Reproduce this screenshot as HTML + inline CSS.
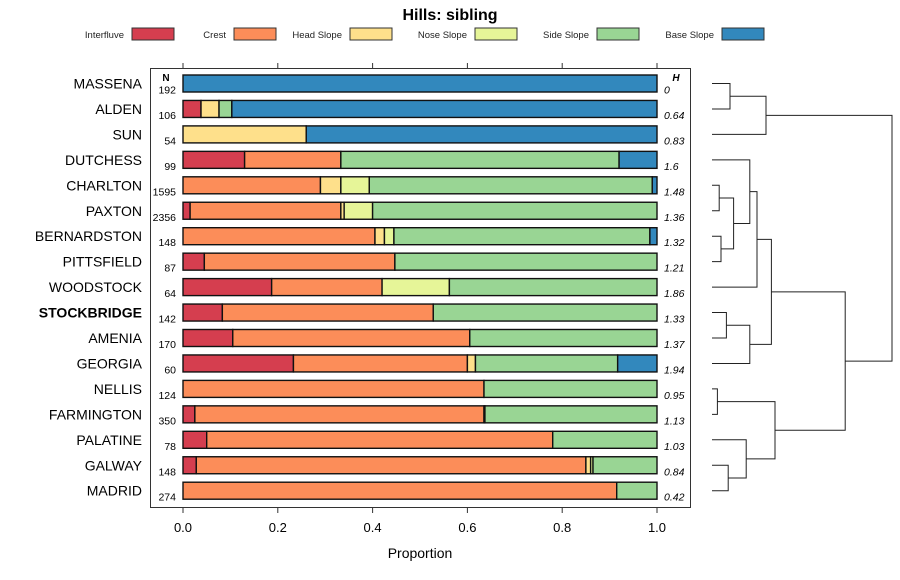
<!DOCTYPE html>
<html><head><meta charset="utf-8"><style>
body{margin:0;background:#fff;}
svg{display:block;font-family:"Liberation Sans",sans-serif;}
</style></head><body>
<svg id="c" width="900" height="580" xmlns="http://www.w3.org/2000/svg"></svg>
<script>
const series = ["Interfluve","Crest","Head Slope","Nose Slope","Side Slope","Base Slope"];
const colors = ["#D53E4F","#FC8D59","#FEE08B","#E6F598","#99D594","#3288BD"];
const categories = ["MASSENA","ALDEN","SUN","DUTCHESS","CHARLTON","PAXTON","BERNARDSTON","PITTSFIELD","WOODSTOCK","STOCKBRIDGE","AMENIA","GEORGIA","NELLIS","FARMINGTON","PALATINE","GALWAY","MADRID"];
const nValues = [192,106,54,99,1595,2356,148,87,64,142,170,60,124,350,78,148,274];
const hValues = ["0","0.64","0.83","1.6","1.48","1.36","1.32","1.21","1.86","1.33","1.37","1.94","0.95","1.13","1.03","0.84","0.42"];
const interfluve = [0,0.038,0,0.13,0,0.015,0,0.045,0.187,0.083,0.105,0.233,0,0.025,0.05,0.028,0];
const crest      = [0,0,0,0.203,0.29,0.318,0.405,0.402,0.233,0.445,0.5,0.367,0.635,0.61,0.73,0.822,0.915];
const headSlope  = [0,0.038,0.26,0,0.043,0.007,0.02,0,0,0,0,0.017,0,0.002,0,0.01,0];
const noseSlope  = [0,0,0,0,0.06,0.06,0.02,0,0.142,0,0,0,0,0,0,0.005,0];
const sideSlope  = [0,0.027,0,0.587,0.597,0.6,0.54,0.553,0.438,0.472,0.395,0.3,0.365,0.363,0.22,0.135,0.085];
const baseSlope  = [1,0.897,0.74,0.08,0.01,0,0.015,0,0,0,0,0.083,0,0,0,0,0];
const xTicks = [0,0.2,0.4,0.6,0.8,1.0];
const xTickLabels = ["0.0","0.2","0.4","0.6","0.8","1.0"];
// dendrogram merges: [left, right, height]; leaves are indices, clusters are "c"+k
const merges = [[0,1,0.1],[ "c0",2,0.3],[4,5,0.04],[6,7,0.05],["c2","c3",0.12],[3,"c4",0.21],["c5",8,0.25],[9,10,0.08],["c7",11,0.21],["c6","c8",0.33],[12,13,0.03],[15,16,0.09],[14,"c11",0.19],["c10","c12",0.35],["c9","c13",0.74],["c1","c14",1.0]];

const NS="http://www.w3.org/2000/svg";
const svg=document.getElementById('c');
function el(t,a,txt){const e=document.createElementNS(NS,t);for(const k in a)e.setAttribute(k,a[k]);if(txt!==undefined)e.textContent=txt;svg.appendChild(e);return e;}
const X0=183,X1=657;
const xs=v=>X0+(X1-X0)*v;
const ys=i=>83.5+i*25.45;
const BH=17;

let t=el('text',{x:450,y:20,'text-anchor':'middle','font-size':16,'font-weight':'bold'},'Hills: sibling');


// legend
const legX=[124,226,342,467,589,714];
series.forEach((s,k)=>{
  let tx=el('text',{x:legX[k],y:38,'text-anchor':'end','font-size':9.5,fill:'#222'},s);
  
  let r=el('rect',{x:legX[k]+8,y:28,width:42,height:12,fill:colors[k],stroke:'#333','stroke-width':1});
  
});

// frame
let fr=el('rect',{x:150.5,y:68.5,width:540,height:439,fill:'none',stroke:'#333','stroke-width':1});


xTicks.forEach((v,k)=>{
  let a=el('line',{x1:xs(v),x2:xs(v),y1:63,y2:68,stroke:'#333'});
  
  let b=el('line',{x1:xs(v),x2:xs(v),y1:508,y2:513,stroke:'#333'});
  
  let l=el('text',{x:xs(v),y:532,'text-anchor':'middle','font-size':13},xTickLabels[k]);
  
});
let xt=el('text',{x:420,y:558,'text-anchor':'middle','font-size':14},'Proportion');


let nh=el('text',{x:166,y:81,'text-anchor':'middle','font-size':10,'font-weight':'bold'},'N');

let hh=el('text',{x:676,y:81,'text-anchor':'middle','font-size':10,'font-weight':'bold','font-style':'italic'},'H');


const all=[interfluve,crest,headSlope,noseSlope,sideSlope,baseSlope];
categories.forEach((c,i)=>{
  const y=ys(i);
  let lb=el('text',{x:142,y:y+5,'text-anchor':'end','font-size':14,'font-weight':c==='STOCKBRIDGE'?'bold':'normal'},c);
  
  let nt=el('text',{x:176,y:y+10,'text-anchor':'end','font-size':10.5},nValues[i]);
  
  let ht=el('text',{x:664,y:y+10,'font-size':10.5,'font-style':'italic'},hValues[i]);
  
  let cum=0;
  all.forEach((arr,k)=>{
    const v=arr[i]; if(v<=0)return;
    let r=el('rect',{x:xs(cum),y:y-BH/2,width:xs(cum+v)-xs(cum),height:BH,fill:colors[k],stroke:'#111','stroke-width':1.4});
    
    cum+=v;
  });
});

// dendrogram
const DL=712,DR=892;
const dx=h=>DL+(DR-DL)*h;
const nodes={};
function pos(id){if(typeof id==='number')return {x:DL,y:ys(id)};return nodes[id];}
merges.forEach((m,k)=>{
  const a=pos(m[0]),b=pos(m[1]),x=dx(m[2]);
  let p=el('path',{d:`M${a.x},${a.y}H${x}V${b.y}H${b.x}`,fill:'none',stroke:'#222','stroke-width':1});
  
  nodes['c'+k]={x:x,y:(a.y+b.y)/2};
});
</script>
</body></html>
